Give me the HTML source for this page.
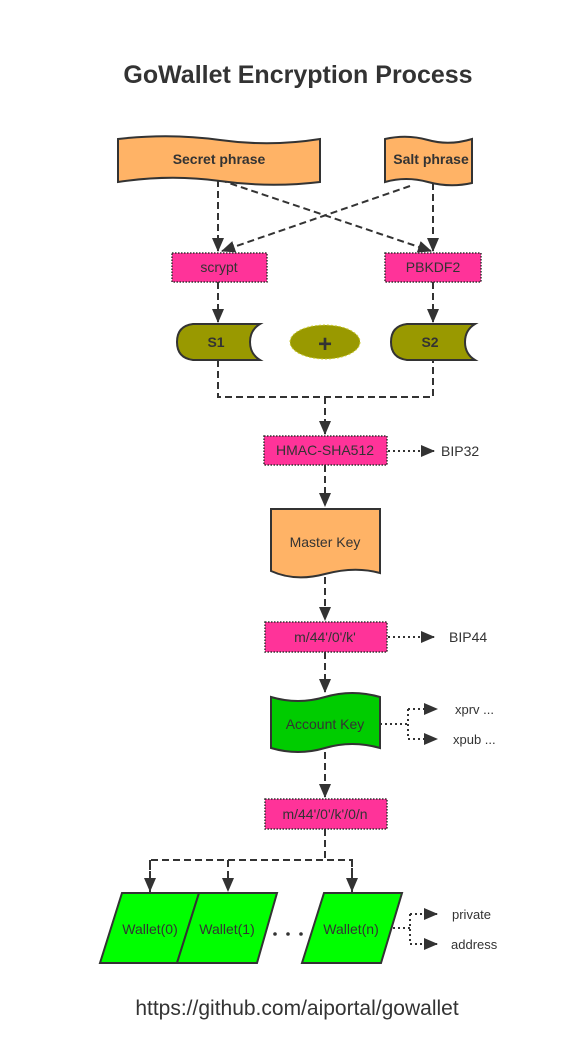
<!DOCTYPE html>
<html><head><meta charset="utf-8"><style>
html,body{margin:0;padding:0;background:#fff;}
svg{display:block;font-family:"Liberation Sans",sans-serif;}
</style></head><body>
<svg width="580" height="1054" viewBox="0 0 580 1054" xmlns="http://www.w3.org/2000/svg">
<defs>
<marker id="b" markerWidth="14" markerHeight="12" refX="13" refY="6" orient="auto" markerUnits="userSpaceOnUse">
<path d="M0,0 L14,6 L0,12 Z" fill="#333"/></marker>
</defs>
<text x="298" y="83" text-anchor="middle" font-size="25" font-weight="bold" fill="#333">GoWallet Encryption Process</text>

<g stroke="#333" stroke-width="2" fill="none" stroke-dasharray="7,4">
<path d="M218,180 V251" marker-end="url(#b)"/>
<path d="M220,180 L431,251" marker-end="url(#b)"/>
<path d="M433,183 V251" marker-end="url(#b)"/>
<path d="M410,186 L222,251" marker-end="url(#b)"/>
<path d="M218,282 V322" marker-end="url(#b)"/>
<path d="M433,282 V322" marker-end="url(#b)"/>
<path d="M218,360 V397 H433 V360"/>
<path d="M325,397 V434" marker-end="url(#b)"/>
<path d="M325,465 V506" marker-end="url(#b)"/>
<path d="M325,577 V620" marker-end="url(#b)"/>
<path d="M325,652 V692" marker-end="url(#b)"/>
<path d="M325,752 V797" marker-end="url(#b)"/>
<path d="M325,829 V860 M150,892 V860 H352 V892"/>
<path d="M150,860 V891" marker-end="url(#b)"/>
<path d="M228,860 V891" marker-end="url(#b)"/>
<path d="M352,860 V891" marker-end="url(#b)"/>
</g>
<g stroke="#333" stroke-width="2" fill="none" stroke-dasharray="2,3">
<path d="M388,451 H434" marker-end="url(#b)"/>
<path d="M388,637 H434" marker-end="url(#b)"/>
<path d="M380,724 H408 M408,709 V739"/>
<path d="M408,709 H437" marker-end="url(#b)"/>
<path d="M408,739 H437" marker-end="url(#b)"/>
<path d="M383,928 H410 M410,914 V944"/>
<path d="M410,914 H437" marker-end="url(#b)"/>
<path d="M410,944 H437" marker-end="url(#b)"/>
</g>

<path d="M118,139 Q170,133 220,140 T320,139 V182 Q270,188 220,181 T118,182 Z" fill="#ffb366" stroke="#333" stroke-width="2"/>
<text x="219" y="164" text-anchor="middle" font-size="14" font-weight="bold" fill="#333">Secret phrase</text>
<path d="M385,139 Q407,134 428,140 T472,139 V183 Q450,188 428,182 T385,182 Z" fill="#ffb366" stroke="#333" stroke-width="2"/>
<text x="431" y="164" text-anchor="middle" font-size="14" font-weight="bold" fill="#333">Salt phrase</text>

<g stroke="#333" stroke-width="1.5" stroke-dasharray="1.5,1.5" fill="#ff3399">
<rect x="172" y="253" width="95" height="29"/>
<rect x="385" y="253" width="96" height="29"/>
<rect x="264" y="436" width="123" height="29"/>
<rect x="265" y="622" width="122" height="30"/>
<rect x="265" y="799" width="122" height="30"/>
</g>
<g font-size="14" fill="#333" text-anchor="middle">
<text x="219" y="272">scrypt</text>
<text x="433" y="272">PBKDF2</text>
<text x="325" y="455">HMAC-SHA512</text>
<text x="325" y="642">m/44'/0'/k'</text>
<text x="325" y="819">m/44'/0'/k'/0/n</text>
</g>

<path d="M193,324 H260 Q250,330 250,342 Q250,354 260,360 H193 Q177,358 177,342 Q177,326 193,324 Z" fill="#999900" stroke="#333" stroke-width="2"/>
<path d="M407,324 H475 Q465,330 465,342 Q465,354 475,360 H407 Q391,358 391,342 Q391,326 407,324 Z" fill="#999900" stroke="#333" stroke-width="2"/>
<text x="216" y="347" text-anchor="middle" font-size="14" font-weight="bold" fill="#333">S1</text>
<text x="430" y="347" text-anchor="middle" font-size="14" font-weight="bold" fill="#333">S2</text>
<ellipse cx="325" cy="342" rx="35" ry="17" fill="#999900" stroke="#cccc33" stroke-width="1" stroke-dasharray="2,2"/>
<text x="325" y="352" text-anchor="middle" font-size="24" font-weight="bold" fill="#333">+</text>

<text x="441" y="456" font-size="14" fill="#333">BIP32</text>
<text x="449" y="642" font-size="14" fill="#333">BIP44</text>
<text x="455" y="714" font-size="13" fill="#333">xprv ...</text>
<text x="453" y="744" font-size="13" fill="#333">xpub ...</text>
<text x="452" y="919" font-size="13" fill="#333">private</text>
<text x="451" y="949" font-size="13" fill="#333">address</text>

<path d="M271,509 H380 V573 Q355,566 325,574 T271,571 Z" fill="#ffb366" stroke="#333" stroke-width="2"/>
<text x="325" y="547" text-anchor="middle" font-size="14" fill="#333">Master Key</text>
<path d="M271,697 Q298,705 325,697 T380,697 V748 Q352,740 325,748 T271,748 Z" fill="#00cc00" stroke="#333" stroke-width="2"/>
<text x="325" y="729" text-anchor="middle" font-size="14" fill="#333">Account Key</text>

<g fill="#00ff00" stroke="#333" stroke-width="2">
<path d="M122,893 H199 L177,963 H100 Z"/>
<path d="M199,893 H277 L257,963 H177 Z"/>
<path d="M324,893 H402 L381,963 H302 Z"/>
</g>
<g font-size="14" fill="#333" text-anchor="middle">
<text x="150" y="934">Wallet(0)</text>
<text x="227" y="934">Wallet(1)</text>
<text x="351" y="934">Wallet(n)</text>
</g>
<g fill="#333"><circle cx="275" cy="934" r="1.8"/><circle cx="288" cy="934" r="1.8"/><circle cx="301" cy="934" r="1.8"/></g>

<text x="297" y="1015" text-anchor="middle" font-size="21" fill="#333">https://github.com/aiportal/gowallet</text>
</svg>
</body></html>
